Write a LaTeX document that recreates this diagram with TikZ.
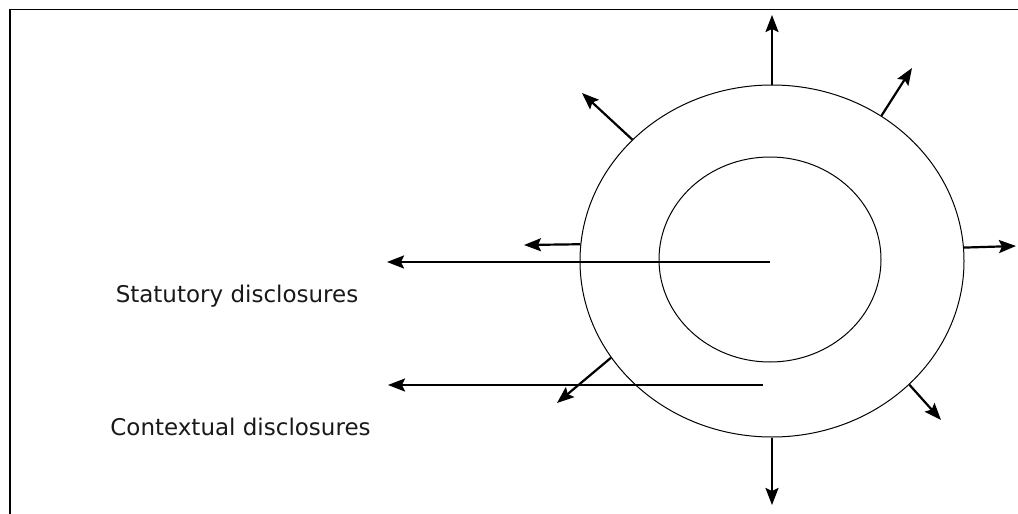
\documentclass[tikz,border=0pt]{standalone}
\usepackage{fontspec}
\setmainfont{DejaVu Sans}
\usetikzlibrary{arrows.meta,shapes.geometric}
\begin{document}
\begin{tikzpicture}[>={Stealth[length=17pt,width=13pt,inset=3pt]},x=1pt,y=-1pt,
	ring/.style={draw,ellipse,inner sep=0pt,line width=1pt},
	ray/.style={->,line width=2.2pt},
	lbl/.style={anchor=base,font=\fontsize{23}{27}\selectfont,text=black!90}]
			\useasboundingbox (0,0) rectangle (1018,514);
			\draw[line width=1.8pt] (10,514)--(10,9.5)--(1018,9.5);
			% rings
			\node[ring,minimum width=384pt,minimum height=352pt] (outer) at (772,261) {};
			\node[ring,minimum width=222pt,minimum height=205pt] (inner) at (770,259.5) {};
			% ends of the rays
			\coordinate (t) at (772,15);
			\coordinate (ur) at (912,68);
			\coordinate (ul) at (582,93);
			\coordinate (l) at (524,245);
			\coordinate (r) at (1016,246);
			\coordinate (ll) at (557,403);
			\coordinate (lr) at (941,420);
			\coordinate (b) at (772,505);
			\draw[ray] (outer.north)--(t);
			\draw[ray] (outer.53)--(ur);
			\draw[ray] (outer.139)--(ul);
			\draw[ray] (outer.175)--(l);
			\draw[ray] (outer.4.5)--(r);
			\draw[ray] (outer.211)--(ll);
			\draw[ray] (outer.318)--(lr);
			\draw[ray] (outer.south)--(b);
			% long arrows and labels
			\coordinate (c1) at (770,262);
			\coordinate (c2) at (763,385);
			\coordinate (s1) at (387,262);
			\coordinate (s2) at (388,385);
			\draw[ray] (c1)--(s1);
			\draw[ray] (c2)--(s2);
			\node[lbl] (stat) at (237,302) {Statutory disclosures};
			\node[lbl] (cont) at (240.5,435) {Contextual disclosures};
	\end{tikzpicture}
\end{document}
